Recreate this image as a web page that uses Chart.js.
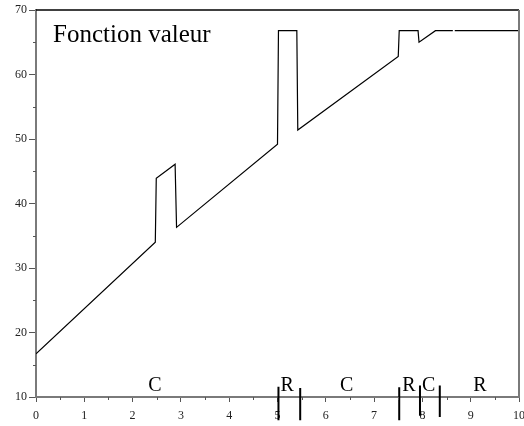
<!DOCTYPE html>
<html>
<head>
<meta charset="utf-8">
<title>Fonction valeur</title>
<script src="https://cdn.jsdelivr.net/npm/chart.js@4.4.1/dist/chart.umd.min.js"></script>
<style>
    html, body { margin: 0; padding: 0; background: #fff; }
    #wrap { width: 524px; height: 426px; }
</style>
</head>
<body>
<div id="wrap"><canvas id="valueChart" width="524" height="426"></canvas></div>
<script>
// courbe de la fonction valeur (null = coupure)
const curveX = [0, 2.47, 2.49, 2.88, 2.91, 5.0, 5.02, 5.40, 5.42, 7.50, 7.52, 7.91, 7.93, 8.27, 8.63, 8.65, 8.67, 10];
const curveY = [16.7, 34.0, 43.9, 46.1, 36.3, 49.2, 66.8, 66.8, 51.4, 62.8, 66.8, 66.8, 65.0, 66.8, 66.8, null, 66.8, 66.8];

// changements de régime
const switchX = [5.02, 5.47, 7.52, 7.95, 8.36];
const switchTop = [11.6, 11.4, 11.5, 11.8, 11.8];
const switchBottom = [6.4, 6.4, 6.4, 7.1, 6.9];

// étiquettes des régimes
const regimeText = ['C', 'R', 'C', 'R', 'C', 'R'];
const regimeX = [2.46, 5.20, 6.43, 7.72, 8.13, 9.19];
const regimeY = 11.0;

const xTicks = [0, 1, 2, 3, 4, 5, 6, 7, 8, 9, 10];
const yTicks = [10, 20, 30, 40, 50, 60, 70];
const titleText = 'Fonction valeur';

const serif = '"Liberation Serif", "DejaVu Serif", serif';
const axisGray = '#7a7a7a';

const datasets = [{
    data: curveX.map((x, i) => ({ x: x, y: curveY[i] })),
    borderColor: '#000',
    borderWidth: 1.2,
    pointRadius: 0,
    tension: 0,
    spanGaps: false
}];

switchX.forEach((x, i) => {
    datasets.push({
        data: [{ x: x, y: switchTop[i] }, { x: x, y: switchBottom[i] }],
        borderColor: '#000',
        borderWidth: 2,
        pointRadius: 0,
        clip: false
    });
});

// cadre, graduations secondaires, titre et étiquettes
const decorations = {
    id: 'decorations',
    afterDraw(chart) {
        const ctx = chart.ctx;
        const area = chart.chartArea;
        const xs = chart.scales.x;
        const ys = chart.scales.y;
        ctx.save();

        ctx.strokeStyle = '#000';
        ctx.lineWidth = 1.5;
        ctx.beginPath();
        ctx.moveTo(area.left, area.top);
        ctx.lineTo(area.right, area.top);
        ctx.stroke();

        ctx.strokeStyle = axisGray;
        ctx.lineWidth = 2;
        ctx.beginPath();
        ctx.moveTo(area.right, area.top);
        ctx.lineTo(area.right, area.bottom);
        ctx.stroke();

        ctx.strokeStyle = '#555';
        ctx.lineWidth = 1;
        ctx.beginPath();
        for (let v = 0.5; v < 10; v += 1) {
            const px = Math.round(xs.getPixelForValue(v)) + 0.5;
            ctx.moveTo(px, area.bottom);
            ctx.lineTo(px, area.bottom + 3);
        }
        for (let v = 15; v < 70; v += 10) {
            const py = Math.round(ys.getPixelForValue(v)) + 0.5;
            ctx.moveTo(area.left - 3, py);
            ctx.lineTo(area.left, py);
        }
        ctx.stroke();

        ctx.fillStyle = '#000';
        ctx.font = '25px ' + serif;
        ctx.textAlign = 'left';
        ctx.textBaseline = 'alphabetic';
        ctx.fillText(titleText, area.left + 17, area.top + 32);

        ctx.font = '20px ' + serif;
        ctx.textAlign = 'center';
        regimeText.forEach((t, i) => {
            ctx.fillText(t, xs.getPixelForValue(regimeX[i]), ys.getPixelForValue(regimeY));
        });
        ctx.restore();
    }
};

new Chart(document.getElementById('valueChart'), {
    type: 'line',
    data: { datasets: datasets },
    options: {
        responsive: false,
        animation: false,
        events: [],
        layout: { padding: { top: 10, right: 5, left: 0, bottom: 0 } },
        plugins: {
            legend: { display: false },
            tooltip: { enabled: false }
        },
        scales: {
            x: {
                type: 'linear',
                min: 0,
                max: 10,
                afterFit(scale) {
                    scale.height = 29;
                    scale.paddingLeft = 0;
                    scale.paddingRight = 0;
                },
                afterBuildTicks(scale) { scale.ticks = xTicks.map(v => ({ value: v })); },
                border: { color: axisGray, width: 2 },
                grid: { drawOnChartArea: false, drawTicks: true, tickLength: 5, tickColor: '#555', tickWidth: 1 },
                ticks: { color: '#222', padding: 7, maxRotation: 0, font: { family: serif, size: 12 } }
            },
            y: {
                type: 'linear',
                min: 10,
                max: 70,
                afterFit(scale) {
                    scale.width = 36;
                    scale.paddingTop = 0;
                    scale.paddingBottom = 0;
                },
                afterBuildTicks(scale) { scale.ticks = yTicks.map(v => ({ value: v })); },
                border: { color: axisGray, width: 2 },
                grid: { drawOnChartArea: false, drawTicks: true, tickLength: 7, tickColor: '#555', tickWidth: 1 },
                ticks: { color: '#222', padding: 2, font: { family: serif, size: 12 } }
            }
        }
    },
    plugins: [decorations]
});
</script>
</body>
</html>
